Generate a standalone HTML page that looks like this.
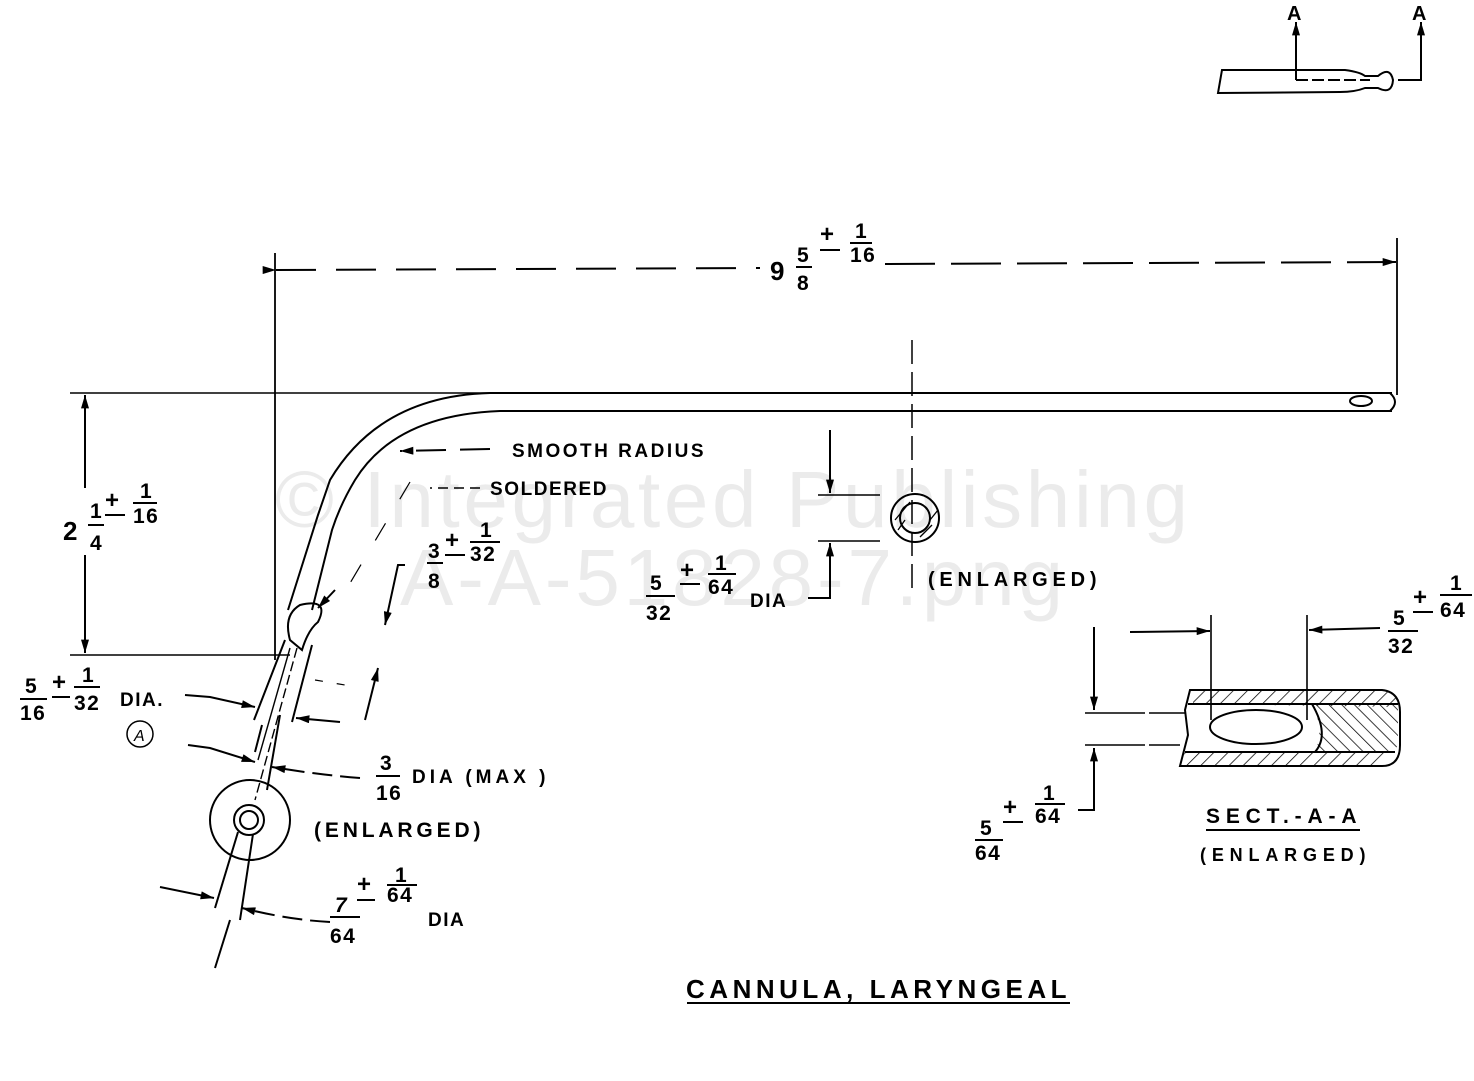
<!DOCTYPE html>
<html><head><meta charset="utf-8"><style>
html,body{margin:0;padding:0;background:#fff;}
svg{display:block}
text{font-family:"Liberation Sans",sans-serif;font-weight:bold;fill:#000;letter-spacing:1.5px}
</style></head><body>
<svg width="1474" height="1081" viewBox="0 0 1474 1081" xmlns="http://www.w3.org/2000/svg">
<defs>
<marker id="ar2" viewBox="0 0 10 6" refX="10" refY="3" markerWidth="28" markerHeight="8" markerUnits="userSpaceOnUse" orient="auto"><path d="M0,0 L10,3 L0,6Z" fill="#000"/></marker>
<pattern id="h1" width="10" height="10" patternUnits="userSpaceOnUse" patternTransform="rotate(45)"><line x1="0" y1="0" x2="0" y2="10" stroke="#000" stroke-width="1.5"/></pattern>
<pattern id="h2" width="9" height="9" patternUnits="userSpaceOnUse" patternTransform="rotate(-45)"><line x1="0" y1="0" x2="0" y2="9" stroke="#000" stroke-width="1.5"/></pattern>
</defs>
<!-- watermark -->
<text x="275" y="527" font-size="80" textLength="915" style="font-weight:normal;fill:#ebebeb;letter-spacing:2px">© Integrated Publishing</text>
<text x="400" y="605" font-size="80" textLength="665" style="font-weight:normal;fill:#ebebeb;letter-spacing:2px">A-A-51828-7.png</text>

<g fill="none" stroke="#000" stroke-width="2">
<!-- top small view -->
<path d="M1222,70 L1345,70 Q1360,72 1365,76 L1378,76 Q1390,66 1393,80 Q1392,95 1378,88 L1365,88 Q1355,92 1340,92 L1218,93 Z"/>
<line x1="1296" y1="80" x2="1370" y2="80" stroke-dasharray="12,4"/>
<line x1="1296" y1="80" x2="1296" y2="22" marker-end="url(#ar2)"/>
<polyline points="1398,80 1421,80 1421,22" marker-end="url(#ar2)"/>

<!-- 9 5/8 dim -->
<line x1="275" y1="253" x2="275" y2="660" stroke-width="1.8"/>
<line x1="1397" y1="238" x2="1397" y2="395" stroke-width="1.8"/>
<line x1="276" y1="270" x2="760" y2="268" stroke-dasharray="40,20" marker-start="url(#ar2)"/>
<line x1="885" y1="264" x2="1396" y2="262" stroke-dasharray="50,16" marker-end="url(#ar2)"/>

<!-- main tube -->
<path d="M1392,393 L490,393 Q380,396 330,480 L318,515 L288,610"/>
<path d="M1392,411 L500,411 Q395,415 355,480 Q340,505 332,530 L312,610"/>
<path d="M1390,393 Q1400,402 1390,411"/>
<ellipse cx="1361" cy="401" rx="11" ry="5"/>
<!-- solder bulb -->
<path d="M290,640 Q283,615 300,605 Q330,598 318,622 Q308,630 302,650 Z"/>
<!-- lower tube -->
<line x1="285" y1="640" x2="254" y2="720"/>
<line x1="312" y1="645" x2="292" y2="722"/>
<line x1="297" y1="648" x2="255" y2="800" stroke-width="1.4" stroke-dasharray="10,4"/>
<line x1="290" y1="648" x2="258" y2="760" stroke-width="1.4"/>
<line x1="262" y1="725" x2="255" y2="752"/>
<line x1="280" y1="715" x2="267" y2="790"/>
<circle cx="250" cy="820" r="40"/>
<circle cx="249" cy="820" r="15"/>
<circle cx="249" cy="820" r="9"/>
<line x1="238" y1="832" x2="215" y2="908"/>
<line x1="253" y1="834" x2="240" y2="920"/>
<line x1="230" y1="920" x2="215" y2="968"/>

<!-- 2 1/4 dim -->
<line x1="70" y1="393" x2="490" y2="393" stroke-width="1.6"/>
<line x1="70" y1="655" x2="290" y2="655" stroke-width="1.6"/>
<line x1="85" y1="488" x2="85" y2="395" marker-end="url(#ar2)"/>
<line x1="85" y1="555" x2="85" y2="653" marker-end="url(#ar2)"/>

<!-- smooth radius leader -->
<line x1="490" y1="449" x2="400" y2="451" stroke-dasharray="30,14" marker-end="url(#ar2)"/>
<line x1="480" y1="488" x2="430" y2="488" stroke-width="1.5" stroke-dasharray="10,6"/>
<line x1="410" y1="482" x2="340" y2="600" stroke-width="1.2" stroke-dasharray="20,28"/>
<line x1="335" y1="590" x2="318" y2="608" marker-end="url(#ar2)"/>
<!-- 3/8 -->
<polyline points="405,565 398,565 385,625" marker-end="url(#ar2)"/>
<line x1="365" y1="720" x2="378" y2="668" marker-end="url(#ar2)"/>
<line x1="315" y1="680" x2="345" y2="685" stroke-width="1.2" stroke-dasharray="8,14"/>

<!-- 5/16 -->
<path d="M185,695 L210,697 L255,707" marker-end="url(#ar2)"/>
<line x1="340" y1="722" x2="296" y2="718" marker-end="url(#ar2)"/>
<path d="M188,745 L210,748 L255,762" marker-end="url(#ar2)"/>
<path d="M360,778 Q320,775 272,767" stroke-dasharray="20,8" marker-end="url(#ar2)"/>
<!-- 7/64 -->
<line x1="160" y1="887" x2="214" y2="898" marker-end="url(#ar2)"/>
<path d="M330,922 Q290,920 242,908" stroke-dasharray="20,8" marker-end="url(#ar2)"/>

<!-- center hole view -->
<line x1="912" y1="340" x2="912" y2="590" stroke-width="1.5" stroke-dasharray="24,8"/>
<circle cx="915" cy="518" r="24"/>
<circle cx="915" cy="518" r="15"/>
<g stroke-width="1.3"><line x1="895" y1="520" x2="910" y2="502"/><line x1="898" y1="530" x2="905" y2="520"/><line x1="930" y1="520" x2="938" y2="510"/><line x1="920" y1="537" x2="932" y2="525"/></g>
<line x1="818" y1="495" x2="880" y2="495" stroke-width="1.6"/>
<line x1="818" y1="541" x2="880" y2="541" stroke-width="1.6"/>
<line x1="830" y1="430" x2="830" y2="493" marker-end="url(#ar2)"/>
<polyline points="808,598 830,598 830,543" marker-end="url(#ar2)"/>

<!-- section A-A -->
<path d="M1190,690 L1382,690 Q1400,692 1400,712 L1400,745 Q1400,766 1382,766 L1180,766 L1188,735 L1185,710 Z"/>
<path d="M1193,690 L1382,690 Q1398,694 1398,707 L1193,704 Z" fill="url(#h1)" stroke="none"/>
<path d="M1185,752 L1392,752 Q1388,765 1380,765 L1180,765 Z" fill="url(#h1)" stroke="none"/>
<path d="M1312,704 L1398,704 L1398,745 Q1395,752 1385,752 L1315,752 Q1325,730 1312,704 Z" fill="url(#h2)" stroke="none"/>
<line x1="1188" y1="704" x2="1398" y2="704"/>
<line x1="1185" y1="752" x2="1395" y2="752"/>
<ellipse cx="1256" cy="727" rx="46" ry="17"/>
<path d="M1312,704 Q1330,735 1315,752"/>
<line x1="1211" y1="615" x2="1211" y2="720" stroke-width="1.6"/>
<line x1="1307" y1="615" x2="1307" y2="720" stroke-width="1.6"/>
<line x1="1130" y1="632" x2="1210" y2="631" marker-end="url(#ar2)"/>
<line x1="1380" y1="628" x2="1309" y2="630" marker-end="url(#ar2)"/>
<line x1="1085" y1="713" x2="1185" y2="713" stroke-width="1.6" stroke-dasharray="60,4"/>
<line x1="1085" y1="745" x2="1180" y2="745" stroke-width="1.6" stroke-dasharray="60,4"/>
<line x1="1094" y1="627" x2="1094" y2="710" marker-end="url(#ar2)"/>
<polyline points="1078,810 1094,810 1094,748" marker-end="url(#ar2)"/>
<line x1="1206" y1="830" x2="1360" y2="830"/>
<line x1="687" y1="1003" x2="1070" y2="1003"/>
</g>

<!-- texts -->
<g font-size="21">
<text x="1287" y="20" font-size="20">A</text>
<text x="1412" y="20" font-size="20">A</text>
<text x="770" y="280" font-size="26">9</text>
<text x="797" y="262">5</text><line x1="796" y1="267" x2="812" y2="267" stroke="#000" stroke-width="2"/><text x="797" y="290">8</text>
<text x="820" y="242" font-size="24">+</text><line x1="820" y1="250" x2="840" y2="250" stroke="#000" stroke-width="2"/>
<text x="855" y="238">1</text><line x1="850" y1="243" x2="872" y2="243" stroke="#000" stroke-width="2"/><text x="850" y="262">16</text>

<text x="63" y="540" font-size="26">2</text>
<text x="90" y="518">1</text><line x1="88" y1="525" x2="104" y2="525" stroke="#000" stroke-width="2"/><text x="90" y="550">4</text>
<text x="105" y="508" font-size="24">+</text><line x1="105" y1="515" x2="125" y2="515" stroke="#000" stroke-width="2"/>
<text x="140" y="498">1</text><line x1="133" y1="503" x2="157" y2="503" stroke="#000" stroke-width="2"/><text x="133" y="523">16</text>

<text x="512" y="457" font-size="19" textLength="193">SMOOTH RADIUS</text>
<text x="490" y="495" font-size="19" textLength="118">SOLDERED</text>

<text x="428" y="558">3</text><line x1="427" y1="563" x2="443" y2="563" stroke="#000" stroke-width="2"/><text x="428" y="588">8</text>
<text x="445" y="548" font-size="24">+</text><line x1="445" y1="555" x2="465" y2="555" stroke="#000" stroke-width="2"/>
<text x="480" y="537">1</text><line x1="470" y1="542" x2="500" y2="542" stroke="#000" stroke-width="2"/><text x="470" y="561">32</text>

<text x="650" y="590">5</text><line x1="646" y1="596" x2="675" y2="596" stroke="#000" stroke-width="2"/><text x="646" y="620">32</text>
<text x="680" y="578" font-size="24">+</text><line x1="680" y1="584" x2="700" y2="584" stroke="#000" stroke-width="2"/>
<text x="715" y="570">1</text><line x1="708" y1="574" x2="736" y2="574" stroke="#000" stroke-width="2"/><text x="708" y="594">64</text>
<text x="750" y="607" font-size="19">DIA</text>
<text x="928" y="586" font-size="20" textLength="170">(ENLARGED)</text>

<text x="25" y="693">5</text><line x1="20" y1="699" x2="47" y2="699" stroke="#000" stroke-width="2"/><text x="20" y="720">16</text>
<text x="52" y="690" font-size="24">+</text><line x1="52" y1="697" x2="70" y2="697" stroke="#000" stroke-width="2"/>
<text x="82" y="682">1</text><line x1="74" y1="687" x2="100" y2="687" stroke="#000" stroke-width="2"/><text x="74" y="710">32</text>
<text x="120" y="706" font-size="19">DIA.</text>
<circle cx="140" cy="734" r="13" fill="none" stroke="#000" stroke-width="1.5"/><text x="134" y="741" font-size="16" style="font-style:italic;font-weight:normal">A</text>

<text x="380" y="770">3</text><line x1="376" y1="776" x2="400" y2="776" stroke="#000" stroke-width="2"/><text x="376" y="800">16</text>
<text x="412" y="783" font-size="19" textLength="135">DIA (MAX )</text>
<text x="314" y="837" font-size="21" textLength="168">(ENLARGED)</text>

<text x="335" y="912" style="font-style:italic">7</text><line x1="330" y1="917" x2="360" y2="917" stroke="#000" stroke-width="2"/><text x="330" y="943">64</text>
<text x="357" y="892" font-size="24">+</text><line x1="357" y1="900" x2="375" y2="900" stroke="#000" stroke-width="2"/>
<text x="395" y="882">1</text><line x1="387" y1="885" x2="417" y2="885" stroke="#000" stroke-width="2"/><text x="387" y="902">64</text>
<text x="428" y="926" font-size="19">DIA</text>

<text x="1393" y="625">5</text><line x1="1388" y1="631" x2="1418" y2="631" stroke="#000" stroke-width="2"/><text x="1388" y="653">32</text>
<text x="1413" y="605" font-size="24">+</text><line x1="1413" y1="612" x2="1433" y2="612" stroke="#000" stroke-width="2"/>
<text x="1450" y="590">1</text><line x1="1440" y1="595" x2="1472" y2="595" stroke="#000" stroke-width="2"/><text x="1440" y="617">64</text>

<text x="980" y="835">5</text><line x1="975" y1="840" x2="1003" y2="840" stroke="#000" stroke-width="2"/><text x="975" y="860">64</text>
<text x="1003" y="815" font-size="24">+</text><line x1="1003" y1="822" x2="1023" y2="822" stroke="#000" stroke-width="2"/>
<text x="1043" y="800">1</text><line x1="1035" y1="804" x2="1065" y2="804" stroke="#000" stroke-width="2"/><text x="1035" y="823">64</text>

<text x="1206" y="823" font-size="21" textLength="152">SECT.-A-A</text>
<text x="1200" y="861" font-size="18" textLength="167">(ENLARGED)</text>
<text x="686" y="998" font-size="26" textLength="382">CANNULA, LARYNGEAL</text>
</g>
</svg>
</body></html>
